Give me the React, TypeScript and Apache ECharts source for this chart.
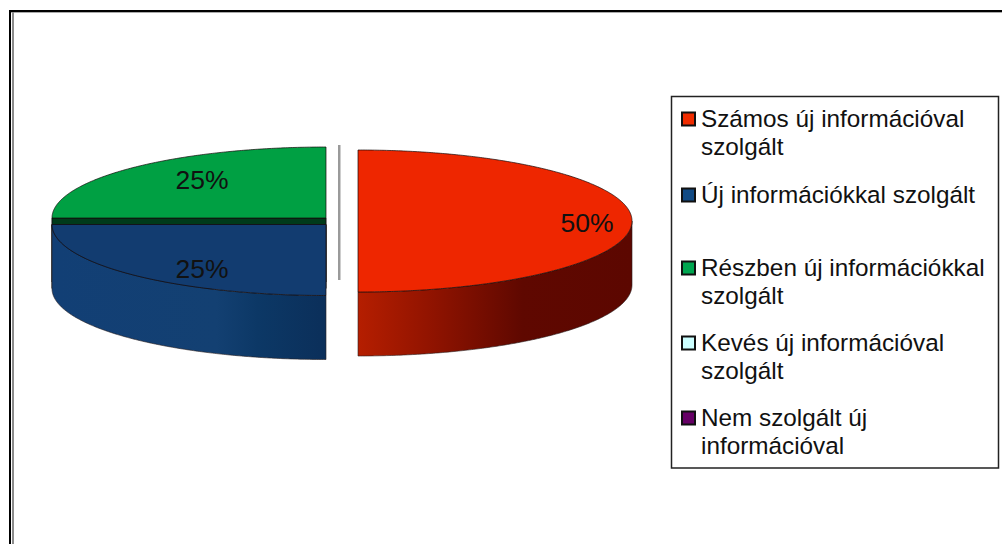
import React, { useEffect, useRef } from "react";
import * as echarts from "echarts";

const categories = [
  "Számos új információval\nszolgált",
  "Új információkkal szolgált",
  "Részben új információkkal\nszolgált",
  "Kevés új információval\nszolgált",
  "Nem szolgált új\ninformációval",
];
const values = [50, 25, 25, 0, 0];
const topColors = ["#ee2600", "#123c70", "#00a043", "#ccffff", "#660066"];
const swatchColors = ["#f02c00", "#114a84", "#00a650", "#ccffff", "#660066"];
const wallColors = ["#5e0700", "#0b2f5a", "#003a1a", "#99cccc", "#330033"];
const rimStops: [number, string][][] = [
  [[0, "#b51e00"], [0.25, "#931400"], [0.6, "#5f0800"], [1, "#5c0700"]],
  [[0, "#123f75"], [0.6, "#134072"], [0.75, "#0c3866"], [1, "#0b2f5a"]],
  [[0, "#00a043"], [1, "#00602a"]],
  [[0, "#ccffff"], [1, "#99cccc"]],
  [[0, "#660066"], [1, "#330033"]],
];
// geometry of each exploded slice
const centers = [[358, 221], [326, 224.5], [326, 218], [326, 221], [326, 221]];
const labelOffsets = [[229, 2], [-124, 44.5], [-124, -38], [0, 0], [0, 0]];
const legendRows = [119, 195, 268, 343, 418];
const RX = 274;
const RY = 71;
const DEPTH = 64;
const total = values.reduce((a, b) => a + b, 0);

const App = () => {
  const ref = useRef<HTMLDivElement>(null);
  useEffect(() => {
    const chart = echarts.init(ref.current!, null, { renderer: "svg" });

    const renderItem = (params: any, api: any) => {
      const i = params.dataIndex;
      const v = api.value(0) as number;
      if (!v) return { type: "group", children: [] };
      const start = (values.slice(0, i).reduce((a, b) => a + b, 0) / total) * 360;
      const end = start + (v / total) * 360;
      const [cx, cy] = centers[i];
      const pt = (deg: number, dy = 0) => {
        const r = (deg * Math.PI) / 180;
        return [cx + RX * Math.sin(r), cy - RY * Math.cos(r) + dy];
      };
      const arc = (a: number, b: number, dy = 0) => {
        const pts: number[][] = [];
        const n = Math.max(2, Math.ceil(Math.abs(b - a) * 2));
        for (let k = 0; k <= n; k++) pts.push(pt(a + ((b - a) * k) / n, dy));
        return pts;
      };
      const stroke = "rgba(20,10,10,0.7)";
      const children: any[] = [];
      const z = i === 2 ? 1 : 5;

      // wall on a radial cut that faces the viewer
      const wallAngle = [start, end].find((a) => a % 360 === 270);
      if (wallAngle !== undefined) {
        const p = pt(wallAngle);
        children.push({
          type: "polygon",
          z2: z,
          shape: { points: [[cx, cy], p, [p[0], p[1] + DEPTH], [cx, cy + DEPTH]] },
          style: { fill: wallColors[i], stroke: "#111", lineWidth: 1 },
        });
      }
      // outer rim, front half only
      const a0 = Math.max(start, 90);
      const a1 = Math.min(end, 270);
      if (a1 > a0) {
        const pts = [...arc(a0, a1), ...arc(a1, a0, DEPTH)];
        children.push({
          type: "polygon",
          z2: z,
          shape: { points: pts },
          style: {
            fill: new echarts.graphic.LinearGradient(0, 0, 1, 0, rimStops[i].map(([offset, color]) => ({ offset, color }))),
            stroke: "rgba(40,30,30,0.6)",
            lineWidth: 1,
          },
        });
      }
      // top face
      children.push({
        type: "polygon",
        z2: z + 1,
        shape: { points: [[cx, cy], ...arc(start, end)] },
        style: { fill: topColors[i], stroke, lineWidth: 1 },
      });
      // percentage
      children.push({
        type: "text",
        z2: 20,
        x: cx + labelOffsets[i][0],
        y: cy + labelOffsets[i][1],
        style: {
          text: `${Math.round((v / total) * 100)}%`,
          fill: "#111",
          font: "26.5px 'Liberation Sans', Arial, sans-serif",
          align: "center",
          verticalAlign: "middle",
        },
      });
      return { type: "group", children };
    };

    const legendGraphics: any[] = [];
    categories.forEach((name, i) => {
      legendGraphics.push({
        type: "rect",
        shape: { x: 682, y: legendRows[i] - 6.5, width: 13, height: 13 },
        style: { fill: swatchColors[i], stroke: "#111", lineWidth: 2 },
      });
      legendGraphics.push({
        type: "text",
        x: 701,
        y: legendRows[i] - 15,
        style: {
          text: name,
          fill: "#111",
          font: "24.3px 'Liberation Sans', Arial, sans-serif",
          lineHeight: 28.5,
          align: "left",
          verticalAlign: "top",
        },
      });
    });

    chart.setOption({
      animation: false,
      backgroundColor: "#ffffff",
      graphic: [
        // outer frame
        { type: "rect", shape: { x: 9, y: 10, width: 993, height: 2 }, style: { fill: "#000" } },
        { type: "rect", shape: { x: 9, y: 10, width: 2, height: 534 }, style: { fill: "#000" } },
        { type: "rect", shape: { x: 11, y: 12, width: 991, height: 1 }, style: { fill: "#aaa" } },
        { type: "rect", shape: { x: 12, y: 12, width: 2, height: 532 }, style: { fill: "#8c8c8c" } },
        // line beside the gap
        { type: "rect", shape: { x: 338, y: 145, width: 2.5, height: 135 }, style: { fill: "#9a9a9a" } },
        // legend box
        {
          type: "rect",
          shape: { x: 671.5, y: 96.5, width: 327, height: 371.5 },
          style: { fill: "#fff", stroke: "#222", lineWidth: 1.5 },
        },
        ...legendGraphics,
      ],
      series: [
        {
          type: "custom",
          coordinateSystem: "none",
          renderItem,
          data: values.map((v) => [v]),
          silent: true,
        },
      ],
    });
    return () => chart.dispose();
  }, []);
  return (
    <div
      ref={ref}
      style={{ position: "fixed", left: 0, top: 0, width: 1002, height: 544, background: "#fff" }}
    />
  );
};

export default App;
